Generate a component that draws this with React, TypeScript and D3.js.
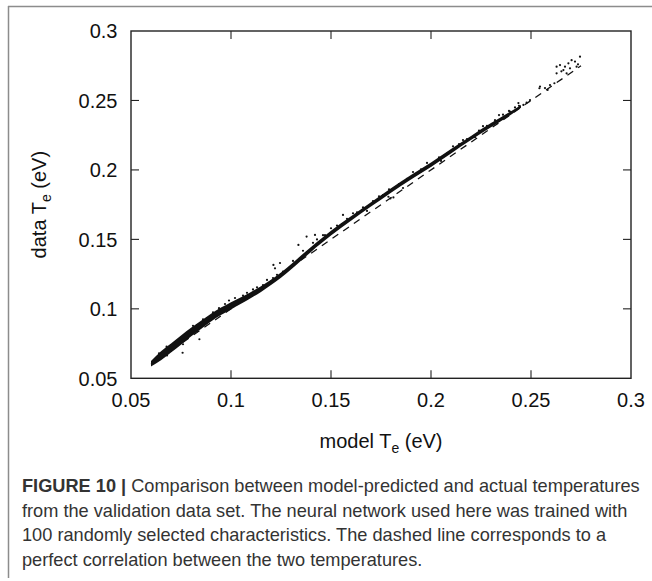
import React from "react";
import * as d3 from "d3";

// ---- data ----
const X_TICKS = [0.05, 0.1, 0.15, 0.2, 0.25, 0.3];
const Y_TICKS = [0.05, 0.1, 0.15, 0.2, 0.25, 0.3];
const X_TICK_LABELS = ["0.05", "0.1", "0.15", "0.2", "0.25", "0.3"];
const Y_TICK_LABELS = ["0.05", "0.1", "0.15", "0.2", "0.25", "0.3"];

// perfect-correlation line (model = data)
const DIAG = [0.06, 0.275];

// dense core of the validation cloud: model Te, centre data Te, half-width (data units)
const CORE_X = [0.060, 0.065, 0.070, 0.075, 0.080, 0.085, 0.090, 0.095, 0.100, 0.105, 0.110, 0.115, 0.120, 0.125, 0.130, 0.135, 0.140, 0.145, 0.150, 0.160, 0.170, 0.180, 0.190, 0.200, 0.210, 0.220, 0.230, 0.240, 0.245];
const CORE_Y = [0.0605, 0.0662, 0.0718, 0.0775, 0.0832, 0.0885, 0.0937, 0.0982, 0.1022, 0.1060, 0.1100, 0.1142, 0.1190, 0.1242, 0.1302, 0.1365, 0.1428, 0.1487, 0.1545, 0.1650, 0.1752, 0.1852, 0.1947, 0.2037, 0.2135, 0.2230, 0.2322, 0.2410, 0.2458];
const CORE_HW = [0.0020, 0.0032, 0.0033, 0.0033, 0.0032, 0.0030, 0.0028, 0.0027, 0.0026, 0.0024, 0.0022, 0.0020, 0.0019, 0.0019, 0.0019, 0.0019, 0.0018, 0.0017, 0.0017, 0.0016, 0.0016, 0.0016, 0.0016, 0.0016, 0.0016, 0.0015, 0.0015, 0.0013, 0.0010];

// individual scattered samples (model Te, data Te)
const PTS_X = [
  0.064, 0.068, 0.072, 0.076, 0.081, 0.083, 0.086, 0.089, 0.091, 0.094, 0.097, 0.099, 0.102, 0.106, 0.108, 0.111, 0.113, 0.116, 0.118, 0.121, 0.123, 0.126,
  0.0678, 0.0758, 0.0842, 0.1220, 0.1245, 0.1212, 0.1337, 0.1378, 0.1420, 0.1430, 0.1560, 0.1787, 0.1812, 0.1797, 0.1500, 0.1470,
  0.158, 0.163, 0.171, 0.176, 0.184, 0.188, 0.195, 0.204, 0.208, 0.214, 0.218, 0.224, 0.228, 0.232, 0.236, 0.239, 0.242, 0.244,
  0.168, 0.186, 0.205, 0.222, 0.238,
  0.153, 0.161, 0.166, 0.174, 0.179, 0.191, 0.198, 0.211, 0.216, 0.226, 0.234, 0.131, 0.136, 0.141, 0.146,
  0.2395, 0.2437, 0.2462, 0.2495, 0.2478, 0.2545, 0.2570, 0.2595, 0.2542, 0.2583, 0.2617,
  0.2628, 0.2645, 0.2670, 0.2687, 0.2703, 0.2720, 0.2745, 0.2628, 0.2678, 0.2662, 0.2695, 0.2728, 0.2735, 0.2652,
];
const PTS_Y = [
  0.0680, 0.0665, 0.0760, 0.0745, 0.0878, 0.0838, 0.0925, 0.0915, 0.0975, 0.1005, 0.1035, 0.1060, 0.1078, 0.1095, 0.1115, 0.1140, 0.1155, 0.1170, 0.1208, 0.1222, 0.1245, 0.1268,
  0.0728, 0.0684, 0.0781, 0.1292, 0.1330, 0.1316, 0.1460, 0.1520, 0.1532, 0.1500, 0.1676, 0.1807, 0.1802, 0.1795, 0.1580, 0.1530,
  0.1648, 0.1695, 0.1775, 0.1818, 0.1898, 0.1935, 0.2005, 0.2090, 0.2118, 0.2185, 0.2222, 0.2283, 0.2318, 0.2358, 0.2398, 0.2425, 0.2450, 0.2462,
  0.1705, 0.1870, 0.2065, 0.2235, 0.2395,
  0.1600, 0.1688, 0.1730, 0.1810, 0.1860, 0.1985, 0.2050, 0.2170, 0.2215, 0.2315, 0.2395, 0.1345, 0.1418, 0.1475, 0.1530,
  0.2419, 0.2481, 0.2468, 0.2503, 0.2484, 0.2600, 0.2589, 0.2611, 0.2588, 0.2576, 0.2624,
  0.2743, 0.2755, 0.2743, 0.2767, 0.2790, 0.2780, 0.2815, 0.2695, 0.2695, 0.2719, 0.2731, 0.2743, 0.2760, 0.2710,
];

const CAPTION_BOLD = "FIGURE 10 |";
const CAPTION_LINES = [
  " Comparison between model-predicted and actual temperatures",
  "from the validation data set. The neural network used here was trained with",
  "100 randomly selected characteristics. The dashed line corresponds to a",
  "perfect correlation between the two temperatures.",
];

export default function App() {
  const W = 652, H = 581;
  const L = 131, R = 631, T = 31, B = 378.3;
  const x = d3.scaleLinear().domain([0.05, 0.3]).range([L, R]);
  const y = d3.scaleLinear().domain([0.05, 0.3]).range([B, T]);
  const font = "'Liberation Sans', Arial, Helvetica, sans-serif";

  const core = CORE_X.map((v, i) => ({ x: v, lo: CORE_Y[i] - CORE_HW[i], hi: CORE_Y[i] + CORE_HW[i] }));
  const area = d3
    .area<{ x: number; lo: number; hi: number }>()
    .x((d) => x(d.x))
    .y0((d) => y(d.lo))
    .y1((d) => y(d.hi))
    .curve(d3.curveMonotoneX);
  const diag = d3
    .line<number>()
    .x((d) => x(d))
    .y((d) => y(d));

  const tickLen = 8;
  return (
    <div style={{ position: "absolute", left: 0, top: 0 }}>
      <svg width={W} height={H} style={{ display: "block", background: "#fff" }}>
        {/* outer frame */}
        <line x1={8.5} y1={6} x2={8.5} y2={578} stroke="#8c8c8c" strokeWidth={1.5} />
        <line x1={8} y1={6.5} x2={652} y2={6.5} stroke="#8c8c8c" strokeWidth={1.5} />

        {/* plot box */}
        <rect x={L} y={T} width={R - L} height={B - T} fill="none" stroke="#222" strokeWidth={1.4} />
        {X_TICKS.slice(1, -1).map((t) => (
          <g key={"xt" + t}>
            <line x1={x(t)} x2={x(t)} y1={B} y2={B - tickLen} stroke="#222" strokeWidth={1.1} />
            <line x1={x(t)} x2={x(t)} y1={T} y2={T + tickLen} stroke="#222" strokeWidth={1.1} />
          </g>
        ))}
        {Y_TICKS.slice(1, -1).map((t) => (
          <g key={"yt" + t}>
            <line x1={L} x2={L + tickLen} y1={y(t)} y2={y(t)} stroke="#222" strokeWidth={1.1} />
            <line x1={R} x2={R - tickLen} y1={y(t)} y2={y(t)} stroke="#222" strokeWidth={1.1} />
          </g>
        ))}

        {/* tick labels */}
        {X_TICKS.map((t, i) => (
          <text key={"xl" + t} x={x(t)} y={406.5} textAnchor="middle" fontFamily={font} fontSize={20} fill="#111">
            {X_TICK_LABELS[i]}
          </text>
        ))}
        {Y_TICKS.map((t, i) => (
          <text key={"yl" + t} x={117.5} y={y(t) + 7.2} textAnchor="end" fontFamily={font} fontSize={20} fill="#111">
            {Y_TICK_LABELS[i]}
          </text>
        ))}

        {/* axis titles */}
        <text x={(L + R) / 2} y={448} textAnchor="middle" fontFamily={font} fontSize={20} fill="#111">
          model T<tspan fontSize={14} dy={5}>e</tspan>
          <tspan dy={-5}> (eV)</tspan>
        </text>
        <text
          transform={`translate(46,${(T + B) / 2}) rotate(-90)`}
          textAnchor="middle"
          fontFamily={font}
          fontSize={20}
          fill="#111"
        >
          data T<tspan fontSize={14} dy={5}>e</tspan>
          <tspan dy={-5}> (eV)</tspan>
        </text>

        {/* data */}
        <path d={diag(DIAG) || ""} fill="none" stroke="#111" strokeWidth={1.3} strokeDasharray="7,6" />
        <path d={area(core) || ""} fill="#111" />
        {PTS_X.map((v, i) => (
          <circle key={"p" + i} cx={x(v)} cy={y(PTS_Y[i])} r={1.1} fill="#111" />
        ))}

        {/* caption */}
        {CAPTION_LINES.map((line, i) => (
          <text key={"c" + i} x={22} y={492 + i * 24.5} fontFamily={font} fontSize={18.2} fill="#333">
            {i === 0 ? <tspan fontWeight="bold">{CAPTION_BOLD}</tspan> : null}
            {line}
          </text>
        ))}
      </svg>
    </div>
  );
}
